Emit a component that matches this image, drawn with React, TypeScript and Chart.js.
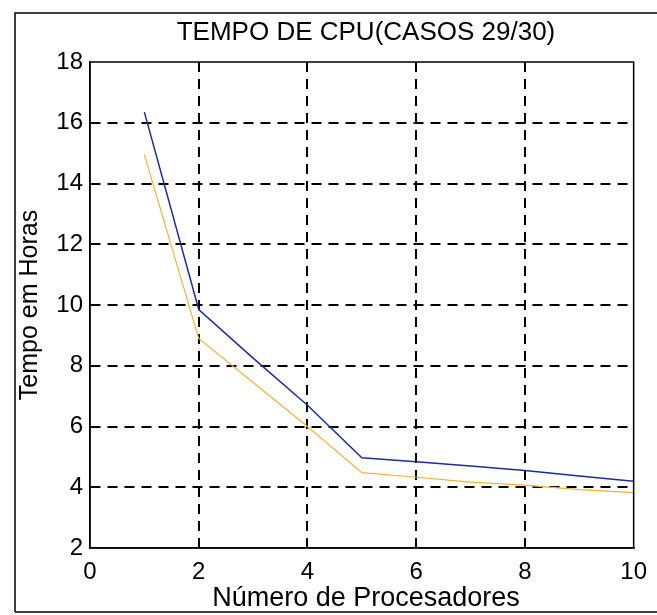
import React, { useEffect, useRef } from "react";
import { Chart, registerables } from "chart.js";

Chart.register(...registerables);

const processors = [1, 2, 3, 4, 5, 6, 7, 8, 9, 10];
const tempoCaso29 = [16.35, 9.85, 8.25, 6.7, 4.97, 4.84, 4.7, 4.55, 4.37, 4.2];
const tempoCaso30 = [14.95, 8.9, 7.45, 6.0, 4.48, 4.33, 4.17, 4.07, 3.92, 3.82];
const xTickValues = [0, 2, 4, 6, 8, 10];
const yTickValues = [2, 4, 6, 8, 10, 12, 14, 16, 18];

const titleText = "TEMPO DE CPU(CASOS 29/30)";
const xTitleText = "Número de Procesadores";
const yTitleText = "Tempo em Horas";

const FONT = "'Liberation Sans', Arial, sans-serif";

const framePlugin = {
  id: "framePlugin",
  afterDraw(chart: any) {
    const { ctx, chartArea } = chart;
    ctx.save();
    ctx.strokeStyle = "#000";
    ctx.lineWidth = 1.5;
    ctx.setLineDash([]);
    ctx.strokeRect(chartArea.left, chartArea.top, chartArea.right - chartArea.left, chartArea.bottom - chartArea.top);
    // outer figure frame
    ctx.beginPath();
    ctx.moveTo(15, 612);
    ctx.lineTo(15, 13);
    ctx.lineTo(657, 13);
    ctx.moveTo(15, 612);
    ctx.lineTo(657, 612);
    ctx.stroke();
    ctx.fillStyle = "#000";
    ctx.textAlign = "center";
    ctx.textBaseline = "middle";
    ctx.font = `26px ${FONT}`;
    ctx.fillText(titleText, 366, 33);
    ctx.font = `27px ${FONT}`;
    ctx.fillText(xTitleText, 366, 599);
    ctx.font = `25px ${FONT}`;
    ctx.translate(30, 305);
    ctx.rotate(-Math.PI / 2);
    ctx.fillText(yTitleText, 0, 0);
    ctx.restore();
  },
};

export default function App() {
  const ref = useRef<HTMLCanvasElement | null>(null);
  useEffect(() => {
    if (!ref.current) return;
    const chart = new Chart(ref.current, {
      type: "line",
      data: {
        datasets: [
          {
            label: "Caso 29",
            data: processors.map((p, i) => ({ x: p, y: tempoCaso29[i] })),
            borderColor: "#1f2c9e",
            borderWidth: 1.5,
            pointRadius: 0,
            tension: 0,
          },
          {
            label: "Caso 30",
            data: processors.map((p, i) => ({ x: p, y: tempoCaso30[i] })),
            borderColor: "#f2b23c",
            borderWidth: 1.2,
            pointRadius: 0,
            tension: 0,
          },
        ],
      },
      options: {
        responsive: false,
        animation: false,
        layout: { padding: { top: 62, right: 22, left: 0, bottom: 0 } },
        plugins: { legend: { display: false }, title: { display: false }, tooltip: { enabled: false } },
        scales: {
          x: {
            type: "linear",
            min: 0,
            max: 10,
            afterBuildTicks: (axis: any) => {
              axis.ticks = xTickValues.map((v) => ({ value: v }));
            },
            afterFit: (axis: any) => {
              axis.height = 67;
            },
            ticks: { color: "#000", font: { family: FONT, size: 24 }, padding: 10, maxRotation: 0 },
            grid: {
              drawTicks: false,
              color: (c: any) => (c.tick && (c.tick.value === 0 || c.tick.value === 10) ? "rgba(0,0,0,0)" : "#000"),
              lineWidth: 2,
            },
            border: { display: true, color: "#000", width: 1.5, dash: [10, 7] },
          },
          y: {
            type: "linear",
            min: 2,
            max: 18,
            afterBuildTicks: (axis: any) => {
              axis.ticks = yTickValues.map((v) => ({ value: v }));
            },
            afterFit: (axis: any) => {
              axis.width = 90;
            },
            ticks: { color: "#000", font: { family: FONT, size: 24 }, padding: 7 },
            grid: {
              drawTicks: false,
              color: (c: any) => (c.tick && (c.tick.value === 2 || c.tick.value === 18) ? "rgba(0,0,0,0)" : "#000"),
              lineWidth: 2,
            },
            border: { display: true, color: "#000", width: 1.5, dash: [10, 7] },
          },
        },
      } as any,
      plugins: [framePlugin],
    });
    return () => chart.destroy();
  }, []);
  return (
    <div style={{ position: "fixed", left: 0, top: 0, width: 657, height: 615, background: "#fff" }}>
      <canvas ref={ref} width={657} height={615} />
    </div>
  );
}
